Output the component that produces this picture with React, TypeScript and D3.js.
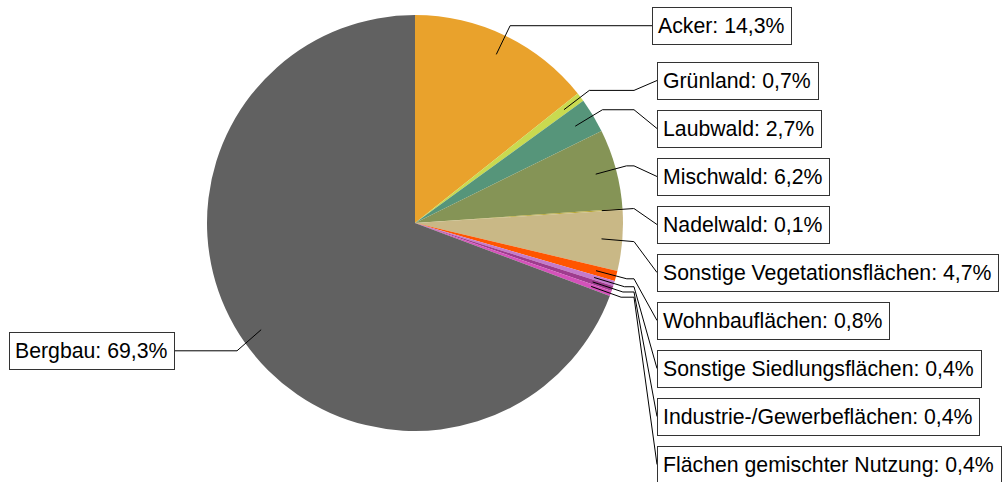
import React, { useEffect, useRef } from 'react';
import * as d3 from 'd3';

const categories = [
  'Acker',
  'Grünland',
  'Laubwald',
  'Mischwald',
  'Nadelwald',
  'Sonstige Vegetationsflächen',
  'Wohnbauflächen',
  'Sonstige Siedlungsflächen',
  'Industrie-/Gewerbeflächen',
  'Flächen gemischter Nutzung',
  'Bergbau',
];
const values = [14.3, 0.7, 2.7, 6.2, 0.1, 4.7, 0.8, 0.4, 0.4, 0.4, 69.3];
const colors = [
  '#E9A22C',
  '#C9DA50',
  '#56957A',
  '#859456',
  '#B8A838',
  '#C9B886',
  '#FF5500',
  '#C47ACC',
  '#9E3C8E',
  '#D452BA',
  '#616161',
];

const W = 1003;
const H = 482;
const CX = 415;
const CY = 223;
const R = 208;
const FONT = '"Liberation Sans", Arial, sans-serif';

export default function App() {
  const ref = useRef<SVGSVGElement>(null);

  useEffect(() => {
    const svg = d3.select(ref.current);
    svg.selectAll('*').remove();

    const arcs = d3.pie<number>().sort(null).value((d) => d)(values);
    const arcGen = d3.arc<d3.PieArcDatum<number>>().innerRadius(0).outerRadius(R);

    const g = svg.append('g').attr('transform', `translate(${CX},${CY})`);
    g.selectAll('path')
      .data(arcs)
      .join('path')
      .attr('d', arcGen as any)
      .attr('fill', (_d, i) => colors[i]);

    const pt = (a: number, r: number): [number, number] => [CX + r * Math.sin(a), CY - r * Math.cos(a)];

    const leaders = svg.append('g');
    const labels = svg.append('g');
    let k = 0;
    arcs.forEach((d, i) => {
      const mid = (d.startAngle + d.endAngle) / 2;
      const s = pt(mid, R * 0.9);
      const p1 = pt(mid, R * 1.053);
      const text = `${categories[i]}: ${values[i].toFixed(1).replace('.', ',')}%`;
      const lg = labels.append('g');
      const rect = lg.append('rect');
      const t = lg
        .append('text')
        .attr('font-family', FONT)
        .attr('font-size', 21.25)
        .attr('fill', '#000')
        .text(text);
      const tw = (t.node() as SVGTextElement).getComputedTextLength();
      const bw = Math.round(tw + 13);
      const bh = 37;
      let pts: [number, number][];
      let bx: number;
      let ly: number;
      if (mid < Math.PI) {
        ly = k === 0 ? p1[1] : 80.5 + (k - 1) * 48;
        bx = k === 0 ? 652 : 657;
        pts = [s, p1, [Math.max(634, p1[0]), p1[1]], [bx, ly]];
        k++;
      } else {
        ly = p1[1] + 3;
        const right = 174;
        bx = right - bw;
        pts = [s, [p1[0] + 2, ly], [right, ly]];
      }
      leaders
        .append('path')
        .attr('d', d3.line()(pts) as string)
        .attr('fill', 'none')
        .attr('stroke', '#000')
        .attr('stroke-width', 1);
      const by = Math.round(ly - bh / 2) + 0.5;
      rect
        .attr('x', Math.round(bx) + 0.5)
        .attr('y', by)
        .attr('width', bw)
        .attr('height', bh)
        .attr('fill', '#fff')
        .attr('stroke', '#333')
        .attr('stroke-width', 1);
      t.attr('x', Math.round(bx) + 6).attr('y', ly + 7.5);
    });
  }, []);

  return (
    <svg
      ref={ref}
      width={W}
      height={H}
      style={{ position: 'absolute', left: 0, top: 0, background: '#fff' }}
    />
  );
}
